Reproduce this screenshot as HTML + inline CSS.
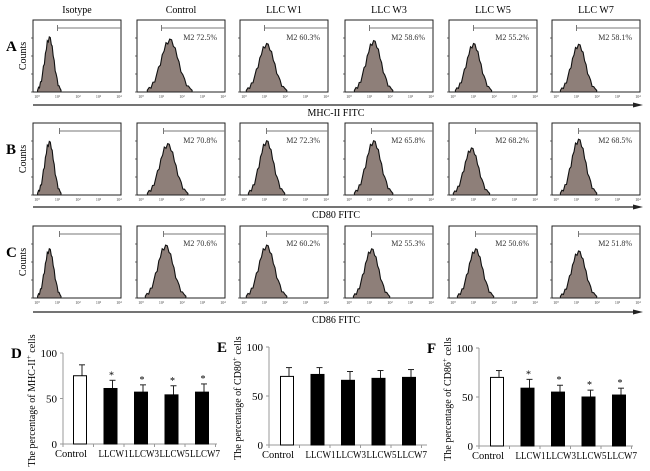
<!DOCTYPE html>
<html><head><meta charset="utf-8">
<style>
html,body{margin:0;padding:0;background:#fff;}
svg{display:block;font-family:"Liberation Serif",serif;}
</style></head>
<body>
<svg id="fig" width="650" height="471" viewBox="0 0 650 471"></svg>
<script>
// ---- Flow histogram data ----
const colTitles = ["Isotype","Control","LLC W1","LLC W3","LLC W5","LLC W7"];
const rowLetters = ["A","B","C"];
const axisLabels = ["MHC-II FITC","CD80 FITC","CD86 FITC"];
const gateValues = [
  ["", "M2 72.5%","M2 60.3%","M2 58.6%","M2 55.2%","M2 58.1%"],
  ["", "M2 70.8%","M2 72.3%","M2 65.8%","M2 68.2%","M2 68.5%"],
  ["", "M2 70.6%","M2 60.2%","M2 55.3%","M2 50.6%","M2 51.8%"]
];
// peak position (decades), peak height fraction, spread (decades)
const peakPos = [
  [0.6,1.4,1.1,1.2,1.0,1.1],
  [0.6,1.3,1.1,1.2,0.9,1.1],
  [0.6,1.2,1.1,1.1,1.1,1.1]
];
const peakHeight = [
  [0.75,0.72,0.66,0.7,0.66,0.65],
  [0.73,0.70,0.74,0.74,0.64,0.76],
  [0.67,0.72,0.72,0.67,0.67,0.64]
];
const peakSpread = [
  [0.22,0.42,0.38,0.36,0.34,0.34],
  [0.22,0.38,0.34,0.36,0.34,0.34],
  [0.22,0.38,0.38,0.34,0.34,0.34]
];
const jitter = [0,0.03,-0.02,0.04,-0.03,0.02,0.05,-0.04,0.03,-0.02,0.04,-0.05,0.02,0.03,-0.03,0.04,-0.02,0.03,-0.04,0.02,0.03,-0.03,0.02,0.01,0];

// ---- Bar chart data ----
const categories = ["Control","LLCW1","LLCW3","LLCW5","LLCW7"];
const yTicks = [0,50,100];
const dValues = [75,61,57,54,57];
const dErrors = [12,9,8,10,9];
const dSig = [false,true,true,true,true];
const eValues = [70,72,66,68,69];
const eErrors = [9,7,9,8,8];
const eSig = [false,false,false,false,false];
const fValues = [70,59,55,50,52];
const fErrors = [7,9,7,7,7];
const fSig = [false,true,true,true,true];

const NS = "http://www.w3.org/2000/svg";
const svg = document.getElementById("fig");
function mk(tag, attrs, parent, text){
  const e = document.createElementNS(NS, tag);
  for (const k in attrs) e.setAttribute(k, attrs[k]);
  if (text !== undefined) e.textContent = text;
  (parent||svg).appendChild(e);
  return e;
}

const panelX = [33,137,240,345,449,552];
const rowTop = [20,123,226];
const PW = 88, PH = 72;
const axisY = [105,207,312];

for (let c=0;c<6;c++){
  const t = mk("text",{x:panelX[c]+PW/2,y:13,"text-anchor":"middle","font-size":"10"},svg,colTitles[c]);
  
  
}

for (let r=0;r<3;r++){
  const L = mk("text",{x:6,y:rowTop[r]+31,"font-size":"15","font-weight":"bold"},svg,rowLetters[r]);
  
  
  const cy = rowTop[r]+PH/2;
  const cn = mk("text",{x:26,y:cy,"font-size":"10","text-anchor":"middle",transform:`rotate(-90 26 ${cy})`},svg,"Counts");
  
  
  for (let c=0;c<6;c++){
    const g = mk("g",{});
    
    
    const x0 = panelX[c], y0 = rowTop[r];
    const dec = (PW-6)/4;
    const bx = (d)=> x0+4+d*dec;
    const p = peakPos[r][c], h = peakHeight[r][c], s = peakSpread[r][c];
    const pts = [];
    const n = jitter.length;
    const lo = Math.max(0, p-2.6*s), hi = p+2.6*s;
    for (let i=0;i<n;i++){
      const d = lo+(hi-lo)*i/(n-1);
      const u = (d-p)/s;
      let v = Math.exp(-u*u/2)*h + (i>0&&i<n-1?jitter[i]*h:0);
      if (v<0) v=0;
      pts.push(`${bx(d).toFixed(1)},${(y0+PH-v*PH).toFixed(1)}`);
    }
    const poly = mk("polygon",{points:`${bx(lo)},${y0+PH} `+pts.join(" ")+` ${bx(hi)},${y0+PH}`,fill:"#8e7f79",stroke:"#111","stroke-width":"1.1"},g);
    
    
    mk("rect",{x:x0,y:y0,width:PW,height:PH,fill:"none",stroke:"#222","stroke-width":"1"},g);
    for (let k=1;k<5;k++) mk("line",{x1:x0-2,x2:x0,y1:y0+k*PH/4,y2:y0+k*PH/4,stroke:"#333","stroke-width":"0.7"},g);
    for (let k=0;k<5;k++){
      mk("text",{x:bx(k),y:y0+PH+6,"font-size":"4","text-anchor":"middle",fill:"#444"},g,"10"+["⁰","¹","²","³","⁴"][k]);
    }
    const gx = bx(1)+ (r===0?0:2);
    mk("line",{x1:gx,x2:x0+PW,y1:y0+8,y2:y0+8,stroke:"#777","stroke-width":"1"},g);
    mk("line",{x1:gx,x2:gx,y1:y0+5,y2:y0+11,stroke:"#777","stroke-width":"1"},g);
    if (gateValues[r][c]){
      const gt = mk("text",{x:x0+PW-8,y:y0+20,"font-size":"8","text-anchor":"end",fill:"#333"},g,gateValues[r][c]);
      
      
    }
  }
  const ay = axisY[r];
  mk("line",{x1:33,x2:636,y1:ay,y2:ay,stroke:"#222","stroke-width":"1.3"});
  mk("polygon",{points:`643,${ay} 633,${ay-2.5} 633,${ay+2.5}`,fill:"#222"});
  const al = mk("text",{x:336,y:ay+11,"font-size":"10","text-anchor":"middle"},svg,axisLabels[r]);
  
  
}

// ---- Bar charts ----
function barChart(cfg){
  const g = mk("g",{});
  
  
  const ys = v => cfg.y0 - (v/100)*(cfg.y0-cfg.y100);
  const xs = i => cfg.x0 + cfg.first + i*cfg.step;
  mk("text",{x:cfg.x0-52,y:cfg.y100+5,"font-size":"15","font-weight":"bold"},g,cfg.letter);
  mk("line",{x1:cfg.x0,x2:cfg.x0,y1:cfg.y100,y2:cfg.y0,stroke:"#999","stroke-width":"1"},g);
  mk("line",{x1:cfg.x0,x2:cfg.xEnd,y1:cfg.y0,y2:cfg.y0,stroke:"#999","stroke-width":"1"},g);
  yTicks.forEach(t=>{
    mk("line",{x1:cfg.x0-3,x2:cfg.x0,y1:ys(t),y2:ys(t),stroke:"#999"},g);
    const tl = mk("text",{x:cfg.x0-6,y:ys(t)+4,"font-size":"11","text-anchor":"end"},g,String(t));
    
    
  });
  for (let i=0;i<=categories.length;i++){
    const tx = cfg.x0 + i*cfg.step;
    mk("line",{x1:tx,x2:tx,y1:cfg.y0,y2:cfg.y0+3,stroke:"#999"},g);
  }
  cfg.values.forEach((v,i)=>{
    const cx = xs(i), bw = 13;
    const top = ys(v), et = ys(v+cfg.errors[i]);
    mk("line",{x1:cx+2,x2:cx+2,y1:top,y2:et,stroke:"#222","stroke-width":"1"},g);
    mk("line",{x1:cx-1,x2:cx+5,y1:et,y2:et,stroke:"#222","stroke-width":"1"},g);
    const b = mk("rect",{x:cx-bw/2,y:top,width:bw,height:cfg.y0-top,fill:i===0?"#fff":"#000",stroke:"#000","stroke-width":"1"},g);
    
    
    if (cfg.sig[i]) mk("text",{x:cx+1,y:et-2,"font-size":"10","text-anchor":"middle"},g,"*");
    const lx = i===0 ? cx-25 : cx-12;
    const cl = mk("text",{x:lx,y:cfg.y0+13,"font-size":"10",textLength:i===0?"32":"30",lengthAdjust:"spacingAndGlyphs"},g,categories[i]);
    
    
  });
  const my = (cfg.y0+cfg.y100)/2+2, tx = cfg.x0-28;
  const yt = mk("text",{x:tx,y:my,"font-size":"10","text-anchor":"middle",transform:`rotate(-90 ${tx} ${my})`},g);
  
  
  yt.appendChild(document.createTextNode("The percentage of "+cfg.marker));
  mk("tspan",{"baseline-shift":"super","font-size":"7"},yt,"+");
  yt.appendChild(document.createTextNode(" cells"));
}
barChart({name:"mhc-ii-bar-chart",letter:"D",marker:"MHC-II",x0:63,xEnd:217,y0:444,y100:353,first:17,step:30.5,values:dValues,errors:dErrors,sig:dSig});
barChart({name:"cd80-bar-chart",letter:"E",marker:"CD80",x0:269,xEnd:427,y0:445,y100:347,first:18,step:30.5,values:eValues,errors:eErrors,sig:eSig});
barChart({name:"cd86-bar-chart",letter:"F",marker:"CD86",x0:479,xEnd:633,y0:446,y100:348,first:18,step:30.5,values:fValues,errors:fErrors,sig:fSig});
</script>
</body></html>
